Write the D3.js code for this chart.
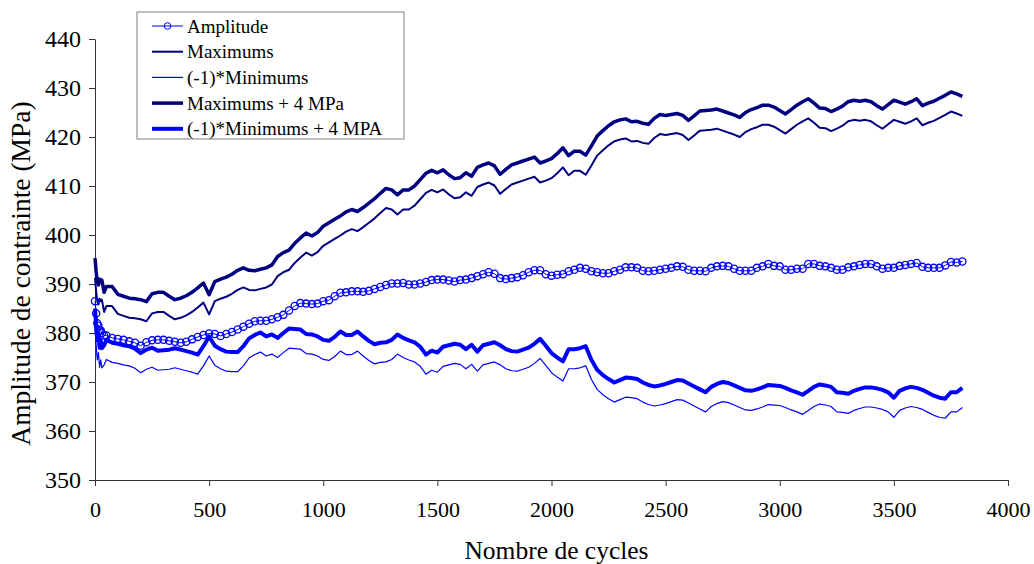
<!DOCTYPE html>
<html>
<head>
<meta charset="utf-8">
<script src="https://d3js.org/d3.v7.min.js"></script>
<style>
  body { margin: 0; background: #fff; }
  svg { display: block; }
  .axis path, .axis line { stroke: #333; }
</style>
</head>
<body>
<svg width="1034" height="564"></svg>
<script>

// cycles (x values)
var cycles = [0, 5, 10, 15, 20, 25, 30, 40, 50,
  75,
  100, 125, 150, 175, 200, 225, 250, 275, 300, 325, 350, 375, 400, 425, 450, 475,
  500, 525, 550, 575, 600, 625, 650, 675, 700, 725, 750, 775, 800, 825, 850, 875,
  900, 925, 950, 975, 1000, 1025, 1050, 1075, 1100, 1125, 1150, 1175, 1200, 1225, 1250, 1275,
  1300, 1325, 1350, 1375, 1400, 1425, 1450, 1475, 1500, 1525, 1550, 1575, 1600, 1625, 1650, 1675,
  1700, 1725, 1750, 1775, 1800, 1825, 1850, 1875, 1900, 1925, 1950, 1975, 2000, 2025, 2050, 2075,
  2100, 2125, 2150, 2175, 2200, 2225, 2250, 2275, 2300, 2325, 2350, 2375, 2400, 2425, 2450, 2475,
  2500, 2525, 2550, 2575, 2600, 2625, 2650, 2675, 2700, 2725, 2750, 2775, 2800, 2825, 2850, 2875,
  2900, 2925, 2950, 2975, 3000, 3025, 3050, 3075, 3100, 3125, 3150, 3175, 3200, 3225, 3250, 3275,
  3300, 3325, 3350, 3375, 3400, 3425, 3450, 3475, 3500, 3525, 3550, 3575, 3600, 3625, 3650, 3675,
  3700, 3725, 3750, 3775, 3800];

// stress amplitude (MPa)
var amplitude = [386.5, 384.0, 382.0, 381.5, 380.5, 380.5, 380.0, 379.5, 379.5,
  379.0,
  378.8, 378.6, 378.3, 378.0, 377.4, 378.1, 378.5, 378.6, 378.6, 378.4, 378.2, 378.0, 378.2, 378.7, 379.2, 379.6,
  379.9, 379.8, 379.4, 379.8, 380.2, 380.7, 381.3, 381.9, 382.4, 382.5, 382.5, 382.8, 383.2, 383.7, 384.6, 385.5,
  386.1, 386.0, 385.9, 386.0, 386.5, 386.7, 387.5, 388.2, 388.3, 388.5, 388.5, 388.4, 388.6, 389.0, 389.4, 389.8,
  390.1, 390.1, 390.2, 389.9, 389.9, 390.1, 390.4, 390.8, 390.9, 390.9, 390.7, 390.5, 390.8, 390.9, 391.2, 391.6,
  392.0, 392.4, 392.1, 391.2, 391.0, 391.2, 391.4, 391.8, 392.4, 392.8, 392.8, 392.0, 391.7, 391.9, 392.0, 392.6,
  392.9, 393.3, 393.1, 392.6, 392.4, 392.2, 392.2, 392.6, 392.9, 393.4, 393.4, 393.3, 392.7, 392.6, 392.7, 392.9,
  393.1, 393.3, 393.6, 393.5, 392.9, 392.7, 392.7, 392.6, 393.3, 393.6, 393.7, 393.6, 393.1, 392.7, 392.7, 392.7,
  393.3, 393.6, 394.1, 393.7, 393.6, 392.9, 392.9, 393.1, 393.1, 394.1, 394.1, 393.7, 393.6, 393.3, 392.9, 392.9,
  393.4, 393.6, 393.9, 394.1, 394.1, 393.6, 393.1, 393.3, 393.3, 393.7, 393.9, 394.1, 394.3, 393.5, 393.3, 393.3,
  393.3, 393.8, 394.5, 394.4, 394.6];

// maximums (MPa)
var maximums = [391.3, 388.5, 386.5, 385.8, 387.0, 386.5, 386.8, 384.3, 385.5,
  385.5,
  383.9, 383.5, 383.1, 383.0, 382.8, 382.4, 384.0, 384.3, 384.3, 383.5, 382.8, 383.1, 383.6, 384.3, 385.2, 386.2,
  383.8, 386.5, 387.0, 387.4, 388.0, 388.8, 389.3, 388.8, 388.7, 389.0, 389.3, 389.9, 391.6, 392.4, 392.9, 394.3,
  395.4, 396.4, 395.8, 396.5, 397.8, 398.5, 399.2, 399.9, 400.7, 401.2, 400.8, 401.6, 402.5, 403.4, 404.5, 405.5,
  405.2, 404.2, 405.2, 405.2, 406.0, 407.3, 408.6, 409.2, 408.7, 409.3, 408.3, 407.5, 407.7, 408.7, 408.0, 409.8,
  410.3, 410.7, 410.1, 408.4, 409.4, 410.3, 410.7, 411.1, 411.5, 411.9, 410.7, 411.1, 411.6, 412.6, 413.8, 412.2,
  413.1, 413.1, 412.3, 414.2, 416.2, 417.3, 418.3, 419.1, 419.5, 419.7, 419.1, 419.2, 418.8, 418.6, 419.8, 420.6,
  420.4, 420.6, 420.8, 420.4, 419.4, 420.3, 421.3, 421.4, 421.5, 421.7, 421.3, 420.9, 420.5, 420.0, 421.0, 421.6,
  422.0, 422.5, 422.5, 422.1, 421.4, 420.7, 421.6, 422.5, 423.2, 423.8, 422.9, 421.9, 421.8, 421.2, 421.7, 422.3,
  423.2, 423.5, 423.3, 423.5, 423.2, 422.4, 421.7, 422.6, 423.5, 423.1, 422.7, 423.2, 423.8, 422.4, 422.9, 423.3,
  423.9, 424.5, 425.2, 424.8, 424.3];

// (-1)*minimums (MPa)
var minimums = [381.0, 377.5, 374.5, 376.0, 373.0, 374.5, 372.9, 373.5, 374.6,
  374.0,
  373.8, 373.5, 373.3, 372.8, 371.9, 372.6, 373.0, 372.4, 372.5, 372.6, 372.9, 372.6, 372.3, 372.0, 371.6, 373.3,
  375.3, 373.4, 372.7, 372.2, 372.1, 372.1, 373.3, 374.9, 375.6, 376.1, 375.3, 375.7, 375.0, 376.0, 376.9, 376.8,
  376.7, 375.8, 375.7, 375.3, 374.6, 374.4, 375.2, 376.3, 375.6, 375.6, 376.3, 375.3, 374.4, 373.7, 374.0, 374.1,
  374.6, 375.7, 375.0, 374.5, 374.1, 373.2, 371.6, 372.4, 372.0, 373.2, 373.5, 373.8, 373.6, 372.7, 373.6, 372.2,
  373.5, 373.8, 374.1, 373.5, 372.7, 372.3, 372.2, 372.6, 373.0, 373.8, 374.8, 373.4, 371.9, 371.0, 370.2, 372.7,
  372.7, 372.9, 373.3, 370.5, 368.5, 367.4, 366.6, 365.9, 366.4, 366.9, 366.8, 366.6, 365.9, 365.4, 365.1, 365.3,
  365.6, 366.0, 366.4, 366.3, 365.7, 365.1, 364.5, 363.9, 365.0, 365.6, 366.0, 365.8, 365.3, 364.8, 364.3, 364.2,
  364.5, 364.9, 365.4, 365.3, 365.2, 364.8, 364.3, 363.9, 363.4, 364.2, 365.0, 365.5, 365.3, 365.0, 363.9, 363.8,
  363.6, 364.2, 364.6, 364.9, 364.9, 364.7, 364.4, 363.9, 362.8, 364.2, 364.7, 365.0, 364.8, 364.4, 363.8, 363.2,
  362.8, 362.6, 363.9, 363.9, 364.8];

var shift = 4; // MPa offset of the two shifted curves
var yTicks = [350, 360, 370, 380, 390, 400, 410, 420, 430, 440];
var xTicks = [0, 500, 1000, 1500, 2000, 2500, 3000, 3500, 4000];

var font = "Liberation Serif";

var svg = d3.select("svg").attr("font-family", font),
    margin = {top: 39, left: 95, right: 26, bottom: 84},
    width = +svg.attr("width") - margin.left - margin.right,
    height = +svg.attr("height") - margin.top - margin.bottom,
    g = svg.append("g").attr("transform", "translate(" + margin.left + "," + margin.top + ")");

var x = d3.scaleLinear().domain([0, 4000]).range([0, width]);
var y = d3.scaleLinear().domain([350, 440]).range([height, 0]);

var rows = cycles.map(function (c, i) {
    return {c: c, amp: amplitude[i], max: maximums[i], min: minimums[i]};
});

// axes
g.append("g")
    .attr("class", "axis")
    .call(d3.axisLeft(y).tickValues(yTicks).tickSize(6).tickPadding(8).tickSizeOuter(0))
    .attr("font-family", font)
    .attr("font-size", 24)
    .selectAll("text").attr("fill", "#000");

g.append("g")
    .attr("class", "axis")
    .attr("transform", "translate(0," + height + ")")
    .call(d3.axisBottom(x).tickValues(xTicks).tickFormat(d3.format("d"))
        .tickSize(6).tickPadding(15).tickSizeOuter(0))
    .attr("font-family", font)
    .attr("font-size", 22)
    .selectAll("text").attr("fill", "#000");

svg.append("text")
    .attr("x", margin.left + width / 2 + 5)
    .attr("y", 559)
    .attr("text-anchor", "middle")
    .attr("font-size", 25.5)
    .text("Nombre de cycles");

svg.append("text")
    .attr("transform", "translate(30," + (margin.top + height / 2 + 14) + ") rotate(-90)")
    .attr("text-anchor", "middle")
    .attr("font-size", 27.5)
    .text("Amplitude de contrainte (MPa)");

// series
function line(key, off) {
    return d3.line()
        .x(function (d) { return x(d.c); })
        .y(function (d) { return y(d[key] + off); });
}

var series = [
    {key: "min", off: 0, color: "#0000ff", w: 1.2},
    {key: "max", off: 0, color: "#000080", w: 2},
    {key: "min", off: shift, color: "#0000ff", w: 4},
    {key: "max", off: shift, color: "#000080", w: 3.5},
    {key: "amp", off: 0, color: "#0000ff", w: 1}
];

series.forEach(function (s) {
    g.append("path")
        .datum(rows)
        .attr("fill", "none")
        .attr("stroke", s.color)
        .attr("stroke-width", s.w)
        .attr("stroke-linejoin", "round")
        .attr("d", line(s.key, s.off));
});

g.selectAll(".dot")
    .data(rows)
    .enter().append("circle")
    .attr("class", "dot")
    .attr("cx", function (d) { return x(d.c); })
    .attr("cy", function (d) { return y(d.amp); })
    .attr("r", 3.6)
    .attr("fill", "none")
    .attr("stroke", "#0000ff")
    .attr("stroke-width", 1.3);

// legend
var legendItems = [
    {label: "Amplitude", color: "#0000ff", w: 1, marker: true},
    {label: "Maximums", color: "#000080", w: 2},
    {label: "(-1)*Minimums", color: "#0000ff", w: 1.2},
    {label: "Maximums + 4 MPa", color: "#000080", w: 3.5},
    {label: "(-1)*Minimums + 4 MPA", color: "#0000ff", w: 4}
];

var legend = svg.append("g").attr("transform", "translate(137,12)");
legend.append("rect")
    .attr("width", 267)
    .attr("height", 127)
    .attr("fill", "#fff")
    .attr("stroke", "#808080")
    .attr("stroke-width", 1);

var li = legend.selectAll(".li")
    .data(legendItems)
    .enter().append("g")
    .attr("transform", function (d, i) { return "translate(0," + (14 + i * 25.7) + ")"; });

li.append("line")
    .attr("x1", 15).attr("x2", 46)
    .attr("stroke", function (d) { return d.color; })
    .attr("stroke-width", function (d) { return d.w; });

li.filter(function (d) { return d.marker; })
    .append("circle")
    .attr("cx", 30.5).attr("r", 3.3)
    .attr("fill", "none").attr("stroke", "#0000ff");

li.append("text")
    .attr("x", 50)
    .attr("dy", "0.35em")
    .attr("font-size", 19)
    .text(function (d) { return d.label; });

</script>
</body>
</html>
